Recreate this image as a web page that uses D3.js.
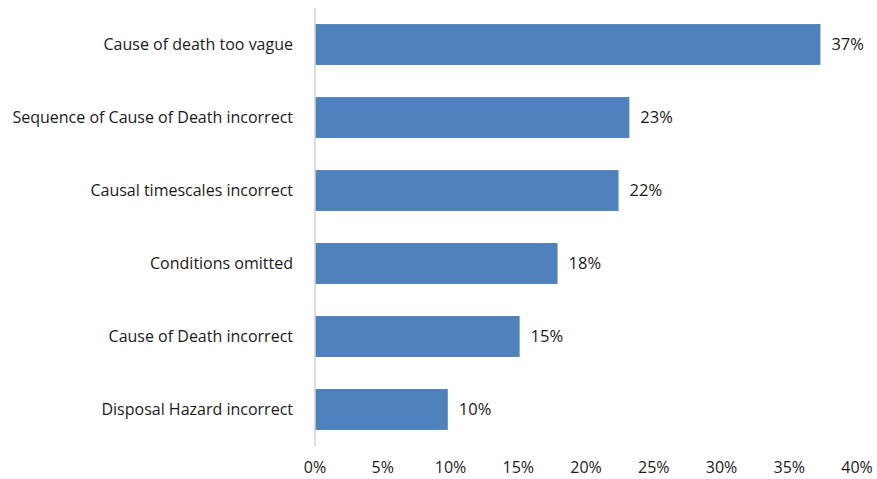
<!DOCTYPE html>
<html>
<head>
<meta charset="utf-8">
<script src="https://cdn.jsdelivr.net/npm/d3@7"></script>
<style>
  body { margin: 0; background: #fff; }
  text { font-family: "Open Sans", "Liberation Sans", sans-serif; fill: #1a1a1a; }
</style>
</head>
<body>
<div id="chart"></div>
<script>
const categories = [
    'Cause of death too vague',
    'Sequence of Cause of Death incorrect',
    'Causal timescales incorrect',
    'Conditions omitted',
    'Cause of Death incorrect',
    'Disposal Hazard incorrect'
];
const values = [0.373, 0.232, 0.224, 0.179, 0.151, 0.098];
const ticks = [0, 0.05, 0.10, 0.15, 0.20, 0.25, 0.30, 0.35, 0.40];

function drawChart() {
    const width = 877, height = 479;
    const margin = { top: 8, right: 20, bottom: 34, left: 315 };

    const svg = d3.select('#chart').append('svg')
        .attr('width', width)
        .attr('height', height);

    const x = d3.scaleLinear().domain([0, 0.4]).range([margin.left, 857]);
    const y = d3.scaleBand().domain(categories)
        .range([8, 446]).paddingInner(0.44).paddingOuter(0.22);

    // bars
    svg.selectAll('rect.bar').data(values).enter().append('rect')
        .attr('class', 'bar')
        .attr('x', x(0))
        .attr('y', (d, i) => y(categories[i]))
        .attr('width', d => x(d) - x(0))
        .attr('height', y.bandwidth())
        .attr('fill', '#4F81BD');

    // value labels
    svg.selectAll('text.val').data(values).enter().append('text')
        .attr('class', 'val')
        .attr('x', d => x(d) + 11)
        .attr('y', (d, i) => y(categories[i]) + y.bandwidth() / 2)
        .attr('dy', '0.35em')
        .style('font-size', '16.5px')
        .text(d => d3.format('.0%')(d));

    // category labels
    svg.selectAll('text.cat').data(categories).enter().append('text')
        .attr('class', 'cat')
        .attr('x', margin.left - 22)
        .attr('y', d => y(d) + y.bandwidth() / 2)
        .attr('dy', '0.35em')
        .attr('text-anchor', 'end')
        .style('font-size', '16px')
        .text(d => d);

    // vertical axis line
    svg.append('line')
        .attr('x1', x(0)).attr('x2', x(0))
        .attr('y1', 8).attr('y2', 446)
        .attr('stroke', '#d0d0d0')
        .attr('stroke-width', 1.5);

    // x tick labels
    svg.selectAll('text.tick').data(ticks).enter().append('text')
        .attr('class', 'tick')
        .attr('x', d => x(d))
        .attr('y', 467.5)
        .attr('dy', '0.35em')
        .attr('text-anchor', 'middle')
        .style('font-size', '16px')
        .text(d => d3.format('.0%')(d));
}

drawChart();
</script>
</body>
</html>
